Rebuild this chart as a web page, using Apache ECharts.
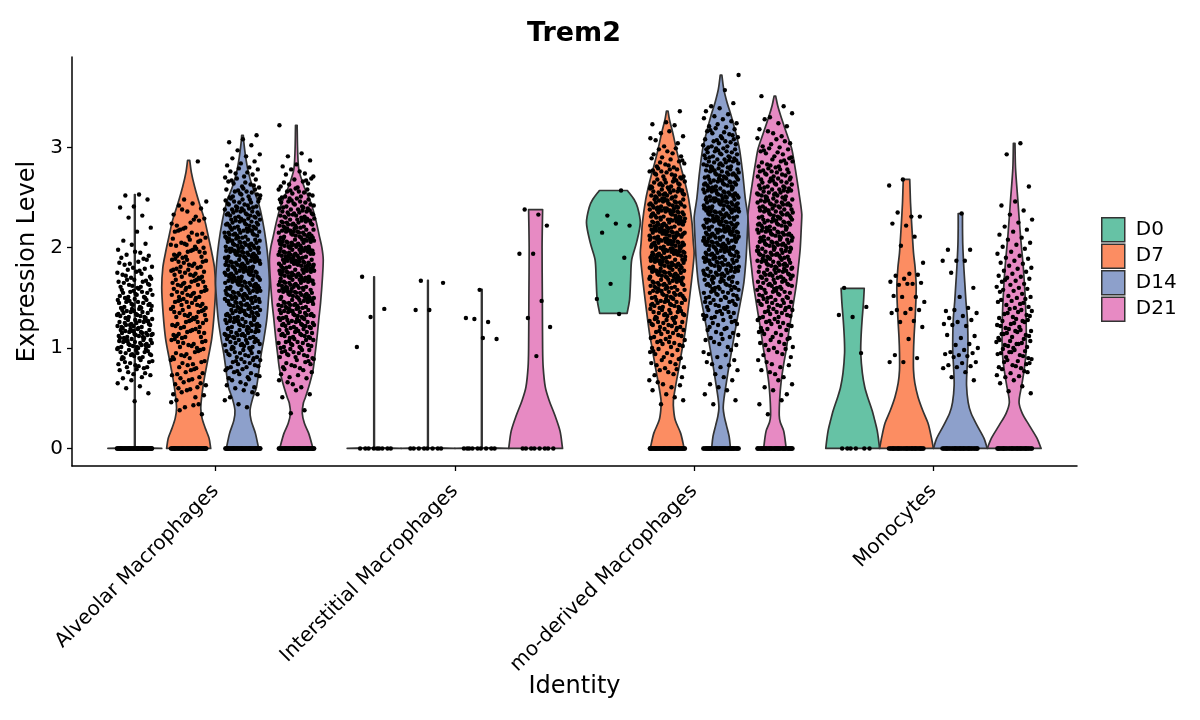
<!DOCTYPE html>
<html>
<head>
<meta charset="utf-8">
<script src="https://cdn.jsdelivr.net/npm/echarts@6/dist/echarts.min.js"></script>
<style>html,body{margin:0;padding:0;background:#fff}#chart{width:1200px;height:720px}</style>
</head>
<body>
<div id="chart"></div>
<script>
// ---------- categories, groups, ticks ----------
const categories = ['Alveolar Macrophages', 'Interstitial Macrophages', 'mo-derived Macrophages', 'Monocytes'];
const days = ['D0', 'D7', 'D14', 'D21'];
const dayColors = ['#66C2A5', '#FC8D62', '#8DA0CB', '#E78AC3'];
const yTicks = [0, 1, 2, 3];
const titleText = 'Trem2';

// ---------- violin outlines: [expression level, relative half-width (1 = widest)] ----------
const vAlvD0 = [[0,1],[0.008,0.012],[1.0,0.012],[2.53,0.012]];
const vAlvD7 = [[0,0.82],[0.1,0.76],[0.2,0.62],[0.3,0.5],[0.4,0.45],[0.55,0.5],[0.71,0.59],[0.88,0.71],[1.1,0.86],[1.35,0.95],[1.6,1.0],[1.8,0.96],[1.95,0.86],[2.1,0.74],[2.27,0.6],[2.44,0.4],[2.61,0.22],[2.75,0.1],[2.87,0.04]];
const vAlvD14 = [[0,0.6],[0.15,0.48],[0.28,0.32],[0.38,0.28],[0.5,0.38],[0.61,0.52],[0.8,0.62],[0.95,0.7],[1.1,0.8],[1.28,0.9],[1.5,0.97],[1.65,1.0],[1.85,0.96],[2.05,0.88],[2.28,0.74],[2.45,0.59],[2.61,0.37],[2.75,0.22],[2.9,0.12],[3.05,0.05],[3.12,0.03]];
const vAlvD21 = [[0,0.62],[0.15,0.46],[0.25,0.3],[0.35,0.22],[0.45,0.26],[0.51,0.34],[0.65,0.5],[0.78,0.62],[0.95,0.7],[1.11,0.77],[1.3,0.84],[1.45,0.9],[1.7,0.97],[1.88,1.0],[2.0,0.95],[2.11,0.86],[2.28,0.72],[2.44,0.55],[2.6,0.3],[2.77,0.1],[2.95,0.05],[3.22,0.03]];
const vIntD0 = [[0,1],[0.008,0.012],[1.0,0.012],[1.71,0.012]];
const vIntD7 = [[0,1],[0.008,0.012],[1.0,0.012],[1.675,0.012]];
const vIntD14 = [[0,1],[0.008,0.012],[1.0,0.012],[1.585,0.012]];
const vIntD21 = [[0,1],[0.17,0.91],[0.32,0.73],[0.48,0.5],[0.61,0.36],[0.81,0.28],[1.0,0.26],[1.5,0.25],[2.0,0.24],[2.38,0.26]];
const vMoD0 = [[1.345,0.51],[1.48,0.6],[1.68,0.64],[1.88,0.68],[2.05,0.86],[2.25,1.0],[2.4,0.9],[2.48,0.77],[2.57,0.52]];
const vMoD7 = [[0,0.63],[0.15,0.5],[0.28,0.3],[0.38,0.24],[0.48,0.23],[0.65,0.33],[0.81,0.44],[1.0,0.56],[1.15,0.66],[1.48,0.82],[1.81,0.96],[1.95,1.0],[2.05,0.97],[2.25,0.92],[2.48,0.8],[2.65,0.66],[2.81,0.5],[2.97,0.35],[3.14,0.21],[3.28,0.08],[3.36,0.03]];
const vMoD14 = [[0,0.35],[0.12,0.3],[0.23,0.2],[0.32,0.12],[0.4,0.08],[0.5,0.11],[0.66,0.2],[0.83,0.3],[1.0,0.41],[1.17,0.52],[1.33,0.63],[1.5,0.75],[1.66,0.85],[1.9,0.93],[2.16,0.98],[2.3,1.0],[2.49,0.9],[2.75,0.8],[2.99,0.68],[3.15,0.54],[3.32,0.37],[3.45,0.22],[3.58,0.1],[3.72,0.03]];
const vMoD21 = [[0,0.42],[0.17,0.33],[0.26,0.2],[0.33,0.16],[0.5,0.18],[0.66,0.23],[0.83,0.32],[1.0,0.43],[1.17,0.52],[1.33,0.62],[1.5,0.72],[1.66,0.81],[1.83,0.88],[1.99,0.94],[2.2,0.98],[2.33,1.0],[2.5,0.92],[2.66,0.83],[2.83,0.73],[2.99,0.62],[3.15,0.42],[3.32,0.21],[3.42,0.1],[3.51,0.03]];
const vMonoD0 = [[0,1],[0.09,0.96],[0.18,0.91],[0.28,0.82],[0.38,0.72],[0.5,0.57],[0.61,0.45],[0.75,0.36],[0.95,0.3],[1.1,0.31],[1.28,0.35],[1.45,0.4],[1.595,0.43]];
const vMonoD7 = [[0,1],[0.1,0.93],[0.25,0.8],[0.38,0.6],[0.51,0.43],[0.65,0.31],[0.78,0.26],[0.95,0.26],[1.11,0.28],[1.35,0.33],[1.61,0.36],[1.8,0.32],[1.95,0.26],[2.2,0.2],[2.44,0.15],[2.6,0.13],[2.68,0.12]];
const vMonoD14 = [[0,1],[0.1,0.88],[0.23,0.62],[0.35,0.4],[0.46,0.29],[0.63,0.23],[0.8,0.25],[0.96,0.28],[1.13,0.28],[1.3,0.26],[1.46,0.21],[1.63,0.17],[1.8,0.13],[2.03,0.09],[2.2,0.08],[2.34,0.08]];
const vMonoD21 = [[0,1],[0.1,0.85],[0.23,0.56],[0.35,0.3],[0.46,0.18],[0.63,0.28],[0.8,0.38],[0.96,0.44],[1.13,0.45],[1.3,0.44],[1.55,0.4],[1.8,0.34],[2.13,0.23],[2.46,0.14],[2.79,0.05],[3.04,0.03]];

// ---------- cell expression values (hundredths), non-zero cells ----------
const ptsAlvD0 = [253,252,248,241,240,232,230,220,216,207,204,203,
198,195,193,192,196,190,
189,184,181,186,183,188,180,185,
174,178,171,176,173,179,170,175,177,172,
164,168,161,166,163,169,160,165,167,162,166,161,168,163,
154,158,151,156,153,159,150,155,157,152,156,151,158,153,155,150,
144,148,141,146,143,149,140,145,147,142,146,141,148,143,145,140,149,144,
134,138,131,136,133,139,130,135,137,132,136,131,138,133,135,130,139,134,132,137,
124,128,121,126,123,129,120,125,127,122,126,121,128,123,125,120,129,124,122,127,123,127,
114,118,111,116,113,119,110,115,117,112,116,111,118,113,115,110,119,114,112,117,113,117,110,115,
104,108,101,106,103,109,100,105,107,102,106,101,108,103,105,100,109,104,102,107,103,107,
94,98,91,96,93,99,90,95,97,92,96,91,98,93,95,90,99,94,
84,88,81,86,83,89,80,85,87,82,86,81,
74,78,71,76,73,79,70,75,
68,65,62,60,
55,47];
const ptsAlvD7 = [286,
248,246,244,242,
239,236,233,231,238,
229,225,222,227,220,224,228,
218,214,211,216,213,219,210,215,217,
207,203,209,201,205,200,208,202,206,204,203,
198,194,191,196,193,199,190,195,197,192,196,191,
188,184,181,186,183,189,180,185,187,182,186,181,188,
178,174,171,176,173,179,170,175,177,172,176,171,178,173,
168,164,161,166,163,169,160,165,167,162,166,161,168,163,165,
158,154,151,156,153,159,150,155,157,152,156,151,158,153,155,
148,144,141,146,143,149,140,145,147,142,146,141,148,143,
138,134,131,136,133,139,130,135,137,132,136,131,138,133,
128,124,121,126,123,129,120,125,127,122,126,121,128,
118,114,111,116,113,119,110,115,117,112,116,111,
108,104,101,106,103,109,100,105,107,102,106,
98,94,91,96,93,99,90,95,97,92,
88,84,81,86,83,89,80,85,87,
78,74,71,76,73,79,70,75,
68,64,61,66,63,69,60,65,
58,54,51,56,53,59,
48,44,41,46,43,
38,34];
const ptsAlvD14 = [312,308,305,302,
297,293,291,
289,286,284,282,280,
274,278,271,276,273,279,270,275,
264,268,261,266,263,269,260,265,267,262,
254,258,251,256,253,259,250,255,257,252,256,251,258,253,
244,248,241,246,243,249,240,245,247,242,246,241,248,243,245,240,249,
234,238,231,236,233,239,230,235,237,232,236,231,238,233,235,230,239,234,232,237,233,
224,228,221,226,223,229,220,225,227,222,226,221,228,223,225,220,229,224,222,227,223,227,220,
214,218,211,216,213,219,210,215,217,212,216,211,218,213,215,210,219,214,212,217,213,217,210,215,219,
204,208,201,206,203,209,200,205,207,202,206,201,208,203,205,200,209,204,202,207,203,207,200,205,209,201,
194,198,191,196,193,199,190,195,197,192,196,191,198,193,195,190,199,194,192,197,193,197,190,195,199,191,196,
184,188,181,186,183,189,180,185,187,182,186,181,188,183,185,180,189,184,182,187,183,187,180,185,189,181,186,
174,178,171,176,173,179,170,175,177,172,176,171,178,173,175,170,179,174,172,177,173,177,170,175,179,171,176,
164,168,161,166,163,169,160,165,167,162,166,161,168,163,165,160,169,164,162,167,163,167,160,165,169,161,166,
154,158,151,156,153,159,150,155,157,152,156,151,158,153,155,150,159,154,152,157,153,157,150,155,159,151,
144,148,141,146,143,149,140,145,147,142,146,141,148,143,145,140,149,144,142,147,143,147,140,145,149,
134,138,131,136,133,139,130,135,137,132,136,131,138,133,135,130,139,134,132,137,133,137,130,135,
124,128,121,126,123,129,120,125,127,122,126,121,128,123,125,120,129,124,122,127,123,127,
114,118,111,116,113,119,110,115,117,112,116,111,118,113,115,110,119,114,112,117,113,
104,108,101,106,103,109,100,105,107,102,106,101,108,103,105,100,109,104,
94,98,91,96,93,99,90,95,97,92,96,91,98,93,95,
84,88,81,86,83,89,80,85,87,82,86,81,88,
74,78,71,76,73,79,70,75,77,72,
64,68,61,66,63,69,60,
54,58,51,56,
44,48,41];
const ptsAlvD21 = [322,294,291,
287,283,281,
274,278,271,276,273,
264,268,261,266,263,269,260,265,267,
254,258,251,256,253,259,250,255,257,252,256,251,258,
244,248,241,246,243,249,240,245,247,242,246,241,248,243,245,240,249,
234,238,231,236,233,239,230,235,237,232,236,231,238,233,235,230,239,234,232,237,233,
224,228,221,226,223,229,220,225,227,222,226,221,228,223,225,220,229,224,222,227,223,227,220,225,229,
214,218,211,216,213,219,210,215,217,212,216,211,218,213,215,210,219,214,212,217,213,217,210,215,219,211,216,
204,208,201,206,203,209,200,205,207,202,206,201,208,203,205,200,209,204,202,207,203,207,200,205,209,201,206,208,202,
194,198,191,196,193,199,190,195,197,192,196,191,198,193,195,190,199,194,192,197,193,197,190,195,199,191,196,198,192,194,
184,188,181,186,183,189,180,185,187,182,186,181,188,183,185,180,189,184,182,187,183,187,180,185,189,181,186,188,182,184,
174,178,171,176,173,179,170,175,177,172,176,171,178,173,175,170,179,174,172,177,173,177,170,175,179,171,176,178,172,
164,168,161,166,163,169,160,165,167,162,166,161,168,163,165,160,169,164,162,167,163,167,160,165,169,161,166,168,
154,158,151,156,153,159,150,155,157,152,156,151,158,153,155,150,159,154,152,157,153,157,150,155,159,151,156,
144,148,141,146,143,149,140,145,147,142,146,141,148,143,145,140,149,144,142,147,143,147,140,145,149,
134,138,131,136,133,139,130,135,137,132,136,131,138,133,135,130,139,134,132,137,133,137,130,
124,128,121,126,123,129,120,125,127,122,126,121,128,123,125,120,129,124,122,127,123,
114,118,111,116,113,119,110,115,117,112,116,111,118,113,115,110,119,114,112,
104,108,101,106,103,109,100,105,107,102,106,101,108,103,105,100,
94,98,91,96,93,99,90,95,97,92,96,91,98,93,
84,88,81,86,83,89,80,85,87,82,
74,78,71,76,73,79,70,
64,68,61,66,
54,58,51,
38,35];
const ptsIntD0 = [171,139,131,101];
const ptsIntD7 = [167,165,138,138];
const ptsIntD14 = [158,130,126,129,109,110];
const ptsIntD21 = [233,238,222,194,194,147,130,121,92];
const ptsMoD0 = [257,232,222,224,215,190,164,149,134];
const ptsMoD7 = [336,
325,323,322,
314,311,316,
307,304,301,309,
294,298,291,296,293,299,290,
284,288,281,286,283,289,280,285,287,282,
274,278,271,276,273,279,270,275,277,272,276,271,278,273,
264,268,261,266,263,269,260,265,267,262,266,261,268,263,265,260,269,264,
254,258,251,256,253,259,250,255,257,252,256,251,258,253,255,250,259,254,252,257,253,257,
244,248,241,246,243,249,240,245,247,242,246,241,248,243,245,240,249,244,242,247,243,247,240,245,249,241,
234,238,231,236,233,239,230,235,237,232,236,231,238,233,235,230,239,234,232,237,233,237,230,235,239,231,236,238,
224,228,221,226,223,229,220,225,227,222,226,221,228,223,225,220,229,224,222,227,223,227,220,225,229,221,226,228,222,224,
214,218,211,216,213,219,210,215,217,212,216,211,218,213,215,210,219,214,212,217,213,217,210,215,219,211,216,218,212,214,215,
204,208,201,206,203,209,200,205,207,202,206,201,208,203,205,200,209,204,202,207,203,207,200,205,209,201,206,208,202,204,205,
194,198,191,196,193,199,190,195,197,192,196,191,198,193,195,190,199,194,192,197,193,197,190,195,199,191,196,198,192,194,
184,188,181,186,183,189,180,185,187,182,186,181,188,183,185,180,189,184,182,187,183,187,180,185,189,181,186,188,182,
174,178,171,176,173,179,170,175,177,172,176,171,178,173,175,170,179,174,172,177,173,177,170,175,179,171,176,
164,168,161,166,163,169,160,165,167,162,166,161,168,163,165,160,169,164,162,167,163,167,160,165,169,
154,158,151,156,153,159,150,155,157,152,156,151,158,153,155,150,159,154,152,157,153,157,150,
144,148,141,146,143,149,140,145,147,142,146,141,148,143,145,140,149,144,142,147,
134,138,131,136,133,139,130,135,137,132,136,131,138,133,135,130,139,134,
124,128,121,126,123,129,120,125,127,122,126,121,128,123,125,
114,118,111,116,113,119,110,115,117,112,116,111,118,
104,108,101,106,103,109,100,105,107,102,106,
94,98,91,96,93,99,90,95,97,
84,88,81,86,83,89,80,85,
74,78,71,76,73,79,
64,68,61,66,63,
54,58,51,
44,48];
const ptsMoD14 = [372,357,341,344,
339,336,333,331,
324,328,321,326,323,329,320,
314,318,311,316,313,319,310,315,317,312,
304,308,301,306,303,309,300,305,307,302,306,301,308,
294,298,291,296,293,299,290,295,297,292,296,291,298,293,295,290,299,
284,288,281,286,283,289,280,285,287,282,286,281,288,283,285,280,289,284,282,287,
274,278,271,276,273,279,270,275,277,272,276,271,278,273,275,270,279,274,272,277,273,277,270,
264,268,261,266,263,269,260,265,267,262,266,261,268,263,265,260,269,264,262,267,263,267,260,265,
254,258,251,256,253,259,250,255,257,252,256,251,258,253,255,250,259,254,252,257,253,257,250,255,259,251,
244,248,241,246,243,249,240,245,247,242,246,241,248,243,245,240,249,244,242,247,243,247,240,245,249,241,246,
234,238,231,236,233,239,230,235,237,232,236,231,238,233,235,230,239,234,232,237,233,237,230,235,239,231,236,238,
224,228,221,226,223,229,220,225,227,222,226,221,228,223,225,220,229,224,222,227,223,227,220,225,229,221,226,228,
214,218,211,216,213,219,210,215,217,212,216,211,218,213,215,210,219,214,212,217,213,217,210,215,219,211,216,218,
204,208,201,206,203,209,200,205,207,202,206,201,208,203,205,200,209,204,202,207,203,207,200,205,209,201,206,
194,198,191,196,193,199,190,195,197,192,196,191,198,193,195,190,199,194,192,197,193,197,190,195,199,
184,188,181,186,183,189,180,185,187,182,186,181,188,183,185,180,189,184,182,187,183,187,180,185,
174,178,171,176,173,179,170,175,177,172,176,171,178,173,175,170,179,174,172,177,173,177,
164,168,161,166,163,169,160,165,167,162,166,161,168,163,165,160,169,164,162,
154,158,151,156,153,159,150,155,157,152,156,151,158,153,155,150,159,
144,148,141,146,143,149,140,145,147,142,146,141,148,143,
134,138,131,136,133,139,130,135,137,132,136,131,
124,128,121,126,123,129,120,125,127,
114,118,111,116,113,119,110,115,
104,108,101,106,103,109,
94,98,91,96,93,
84,88,81,86,83,
74,78,71,
64,68,61,
54,58,
44,48];
const ptsMoD21 = [351,341,330,334,
324,328,321,
314,318,311,316,
304,308,301,306,303,309,300,
294,298,291,296,293,299,290,295,297,
284,288,281,286,283,289,280,285,287,282,286,281,
274,278,271,276,273,279,270,275,277,272,276,271,278,273,275,
264,268,261,266,263,269,260,265,267,262,266,261,268,263,265,260,269,
254,258,251,256,253,259,250,255,257,252,256,251,258,253,255,250,259,254,252,257,
244,248,241,246,243,249,240,245,247,242,246,241,248,243,245,240,249,244,242,247,243,
234,238,231,236,233,239,230,235,237,232,236,231,238,233,235,230,239,234,232,237,233,237,230,
224,228,221,226,223,229,220,225,227,222,226,221,228,223,225,220,229,224,222,227,223,227,220,225,
214,218,211,216,213,219,210,215,217,212,216,211,218,213,215,210,219,214,212,217,213,217,210,215,
204,208,201,206,203,209,200,205,207,202,206,201,208,203,205,200,209,204,202,207,203,207,200,205,
194,198,191,196,193,199,190,195,197,192,196,191,198,193,195,190,199,194,192,197,193,197,190,
184,188,181,186,183,189,180,185,187,182,186,181,188,183,185,180,189,184,182,187,183,187,
174,178,171,176,173,179,170,175,177,172,176,171,178,173,175,170,179,174,172,177,173,
164,168,161,166,163,169,160,165,167,162,166,161,168,163,165,160,169,164,162,
154,158,151,156,153,159,150,155,157,152,156,151,158,153,155,150,159,
144,148,141,146,143,149,140,145,147,142,146,141,148,143,145,
134,138,131,136,133,139,130,135,137,132,136,131,138,
124,128,121,126,123,129,120,125,127,122,126,
114,118,111,116,113,119,110,115,117,
104,108,101,106,103,109,100,105,
94,98,91,96,93,99,
84,88,81,86,83,
74,78,71,76,
64,68,61,
54,58,
44,48,
34];
const ptsMonoD0 = [160,141,131,133,95];
const ptsMonoD7 = [268,262,231,235,231,222,224,211,202,185,174,172,173,169,166,164,163,165,164,152,151,151,146,139,138,138,135,135,127,126,121,109,93,90,86,86];
const ptsMonoD14 = [234,198,198,187,187,187,175,160,151,137,140,138,135,132,130,128,126,124,122,123,112,110,113,104,103,100,98,96,95,93,94,92,91,86,85,83,82,81,80,76,71,68];
const ptsMonoD21 = [304,293,261,
246,242,237,233,228,225,221,
218,216,213,210,208,205,203,201,
199,196,194,192,190,
189,187,185,184,182,180,
179,177,176,174,172,171,170,
169,167,166,164,163,161,160,168,
159,157,156,154,152,151,150,158,
149,147,146,144,143,141,140,148,145,
139,137,136,134,133,131,130,138,135,132,
129,127,126,124,123,121,120,128,125,122,127,
119,117,116,114,113,111,110,118,115,112,117,114,
109,107,106,104,103,101,100,108,105,102,107,104,
99,97,96,94,93,91,90,98,95,92,96,
89,87,86,84,83,81,80,88,85,82,
79,77,75,73,72,71,76,
68,65,62,
57,55];

// number of cells with expression exactly 0, per [category][day]
const zeroCounts = [[60, 60, 60, 60], [9, 8, 9, 8], [0, 60, 50, 50], [6, 40, 40, 40]];

// ---------- assemble ----------
const violins = [
  [vAlvD0, vAlvD7, vAlvD14, vAlvD21],
  [vIntD0, vIntD7, vIntD14, vIntD21],
  [vMoD0, vMoD7, vMoD14, vMoD21],
  [vMonoD0, vMonoD7, vMonoD14, vMonoD21]
];
const points = [
  [ptsAlvD0, ptsAlvD7, ptsAlvD14, ptsAlvD21],
  [ptsIntD0, ptsIntD7, ptsIntD14, ptsIntD21],
  [ptsMoD0, ptsMoD7, ptsMoD14, ptsMoD21],
  [ptsMonoD0, ptsMonoD7, ptsMonoD14, ptsMonoD21]
];

const HALF = 0.1125;                       // widest violin half-width (x units)
const DODGE = [-0.3375, -0.1125, 0.1125, 0.3375];
const JIT = 0.075;                         // jitter half-width (x units)
const GOLD = 0.6180339887;

const scatterData = [];
for (let c = 0; c < 4; c++) {
  for (let d = 0; d < 4; d++) {
    const xc = c + 1 + DODGE[d];
    const vals = points[c][d].map(v => v / 100);
    for (let k = 0; k < zeroCounts[c][d]; k++) vals.push(0);
    vals.forEach((v, k) => {
      const u = ((k + 1) * GOLD + (c * 4 + d) * 0.137) % 1;   // even spread across jitter width
      scatterData.push([xc + (u * 2 - 1) * JIT, v]);
    });
  }
}

function violinSeries(d) {
  return {
    type: 'custom',
    name: days[d],
    coordinateSystem: 'cartesian2d',
    itemStyle: { color: dayColors[d], borderColor: '#333', borderWidth: 1.5 },
    data: categories.map((_, c) => [c]),
    z: 2,
    renderItem(params, api) {
      const c = api.value(0);
      const prof = violins[c][d];
      const xc = c + 1 + DODGE[d];
      const right = prof.map(p => api.coord([xc + p[1] * HALF, p[0]]));
      const left = prof.slice().reverse().map(p => api.coord([xc - p[1] * HALF, p[0]]));
      const n = right.length;
      const pts = [right[0], ...right, right[n - 1], left[0], ...left, left[n - 1]];
      let minX = Infinity, minY = Infinity, maxX = -Infinity, maxY = -Infinity;
      pts.forEach(p => { minX = Math.min(minX, p[0]); maxX = Math.max(maxX, p[0]); minY = Math.min(minY, p[1]); maxY = Math.max(maxY, p[1]); });
      return {
        type: 'polygon',
        shape: { points: pts, smooth: n > 5 ? 0.3 : 0, smoothConstraint: [[minX, minY], [maxX, maxY]] },
        style: { fill: dayColors[d], stroke: '#333', lineWidth: 1.7, lineJoin: 'round' }
      };
    }
  };
}

const FONT = 'DejaVu Sans';
const chart = echarts.init(document.getElementById('chart'));
chart.setOption({
  animation: false,
  backgroundColor: '#fff',
  textStyle: { fontFamily: FONT },
  title: {
    text: titleText, left: 574, top: 20, textAlign: 'center', padding: 0,
    textStyle: { fontSize: 27, fontWeight: 'bold', color: '#000', fontFamily: FONT }
  },
  legend: {
    data: days, orient: 'vertical', left: 1101, top: 217, icon: 'rect', padding: 0,
    itemWidth: 23, itemHeight: 24, itemGap: 1, selectedMode: false,
    itemStyle: { borderColor: '#333', borderWidth: 1.5 },
    textStyle: { fontSize: 20, color: '#000', fontFamily: FONT, padding: [0, 0, 0, 6] }
  },
  grid: { left: 72, right: 123, top: 57, bottom: 254, containLabel: false },
  xAxis: {
    type: 'value', min: 0.4, max: 4.6,
    name: 'Identity', nameLocation: 'middle', nameGap: 209, nameMoveOverlap: false,
    nameTextStyle: { fontSize: 24, color: '#000', fontFamily: FONT },
    axisLine: { show: true, onZero: false, lineStyle: { color: '#000', width: 1.5 } },
    axisTick: { show: true, customValues: [1, 2, 3, 4], length: 5, lineStyle: { color: '#000', width: 1.3 } },
    axisLabel: {
      customValues: [1, 2, 3, 4], formatter: v => categories[Math.round(v) - 1],
      rotate: 45, fontSize: 20, color: '#000', margin: 22, fontFamily: FONT
    },
    splitLine: { show: false }
  },
  yAxis: {
    type: 'value', min: -0.175, max: 3.9,
    name: 'Expression Level', nameLocation: 'middle', nameGap: 32, nameRotate: 90, nameMoveOverlap: false,
    nameTextStyle: { fontSize: 24, color: '#000', fontFamily: FONT },
    axisLine: { show: true, onZero: false, lineStyle: { color: '#000', width: 1.5 } },
    axisTick: { show: true, customValues: yTicks, length: 5, lineStyle: { color: '#000', width: 1.3 } },
    axisLabel: { customValues: yTicks, fontSize: 20, color: '#000', margin: 9, fontFamily: FONT },
    splitLine: { show: false }
  },
  series: [
    violinSeries(0), violinSeries(1), violinSeries(2), violinSeries(3),
    {
      type: 'scatter', data: scatterData, symbol: 'circle', symbolSize: 4.4,
      itemStyle: { color: '#000', opacity: 1 }, silent: true, z: 5
    }
  ]
});
</script>
</body>
</html>
